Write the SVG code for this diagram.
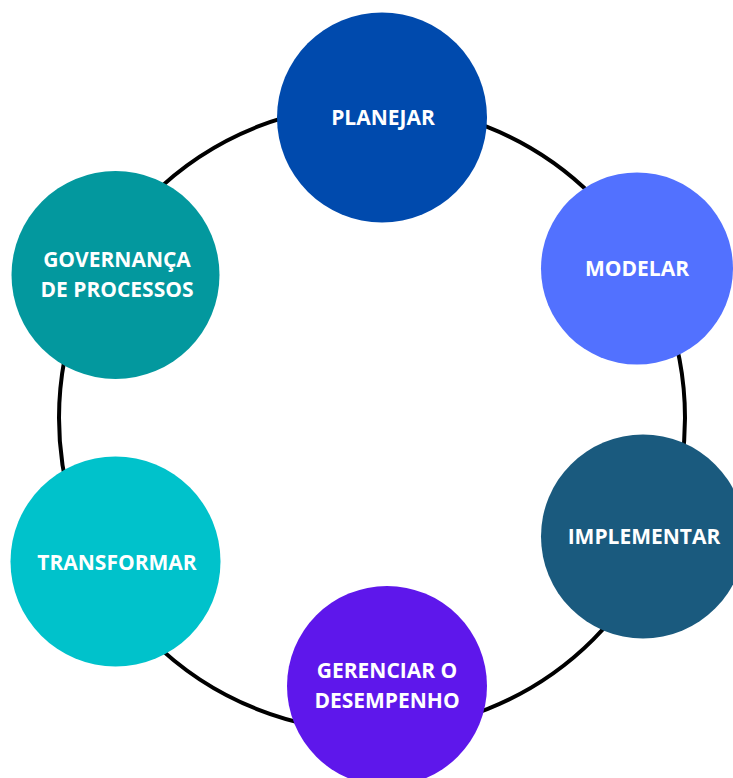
<svg xmlns="http://www.w3.org/2000/svg" width="733" height="778" viewBox="0 0 733 778">
  <style>
    .ring { fill: none; stroke: #000; stroke-width: 4; }
    .label { font-family: "Open Sans", "Noto Sans", "Liberation Sans", sans-serif; font-weight: 700; font-size: 21px; fill: #ffffff; text-anchor: middle; }
  </style>
  <rect width="733" height="778" fill="#ffffff"/>
  <g id="connectors">
    <circle class="ring" cx="372" cy="418" r="313"/>
  </g>
  <g id="planejar">
    <circle cx="382" cy="117.5" r="105" fill="#004aad"/>
    <text class="label" x="383" y="125">PLANEJAR</text>
  </g>
  <g id="modelar">
    <circle cx="637" cy="268.5" r="96" fill="#5271ff"/>
    <text class="label" x="637" y="276">MODELAR</text>
  </g>
  <g id="implementar">
    <circle cx="643" cy="536.5" r="102" fill="#1a5a7e"/>
    <text class="label" x="644" y="544">IMPLEMENTAR</text>
  </g>
  <g id="gerenciar">
    <circle cx="387" cy="686" r="100" fill="#5e17eb"/>
    <text class="label" x="387" y="678">GERENCIAR O</text>
    <text class="label" x="387" y="708">DESEMPENHO</text>
  </g>
  <g id="transformar">
    <circle cx="115.5" cy="561.5" r="105" fill="#00c2cb"/>
    <text class="label" x="117" y="570">TRANSFORMAR</text>
  </g>
  <g id="governanca">
    <circle cx="115.5" cy="275" r="104" fill="#03989e"/>
    <text class="label" x="117" y="267">GOVERNANÇA</text>
    <text class="label" x="117" y="297">DE PROCESSOS</text>
  </g>
</svg>
